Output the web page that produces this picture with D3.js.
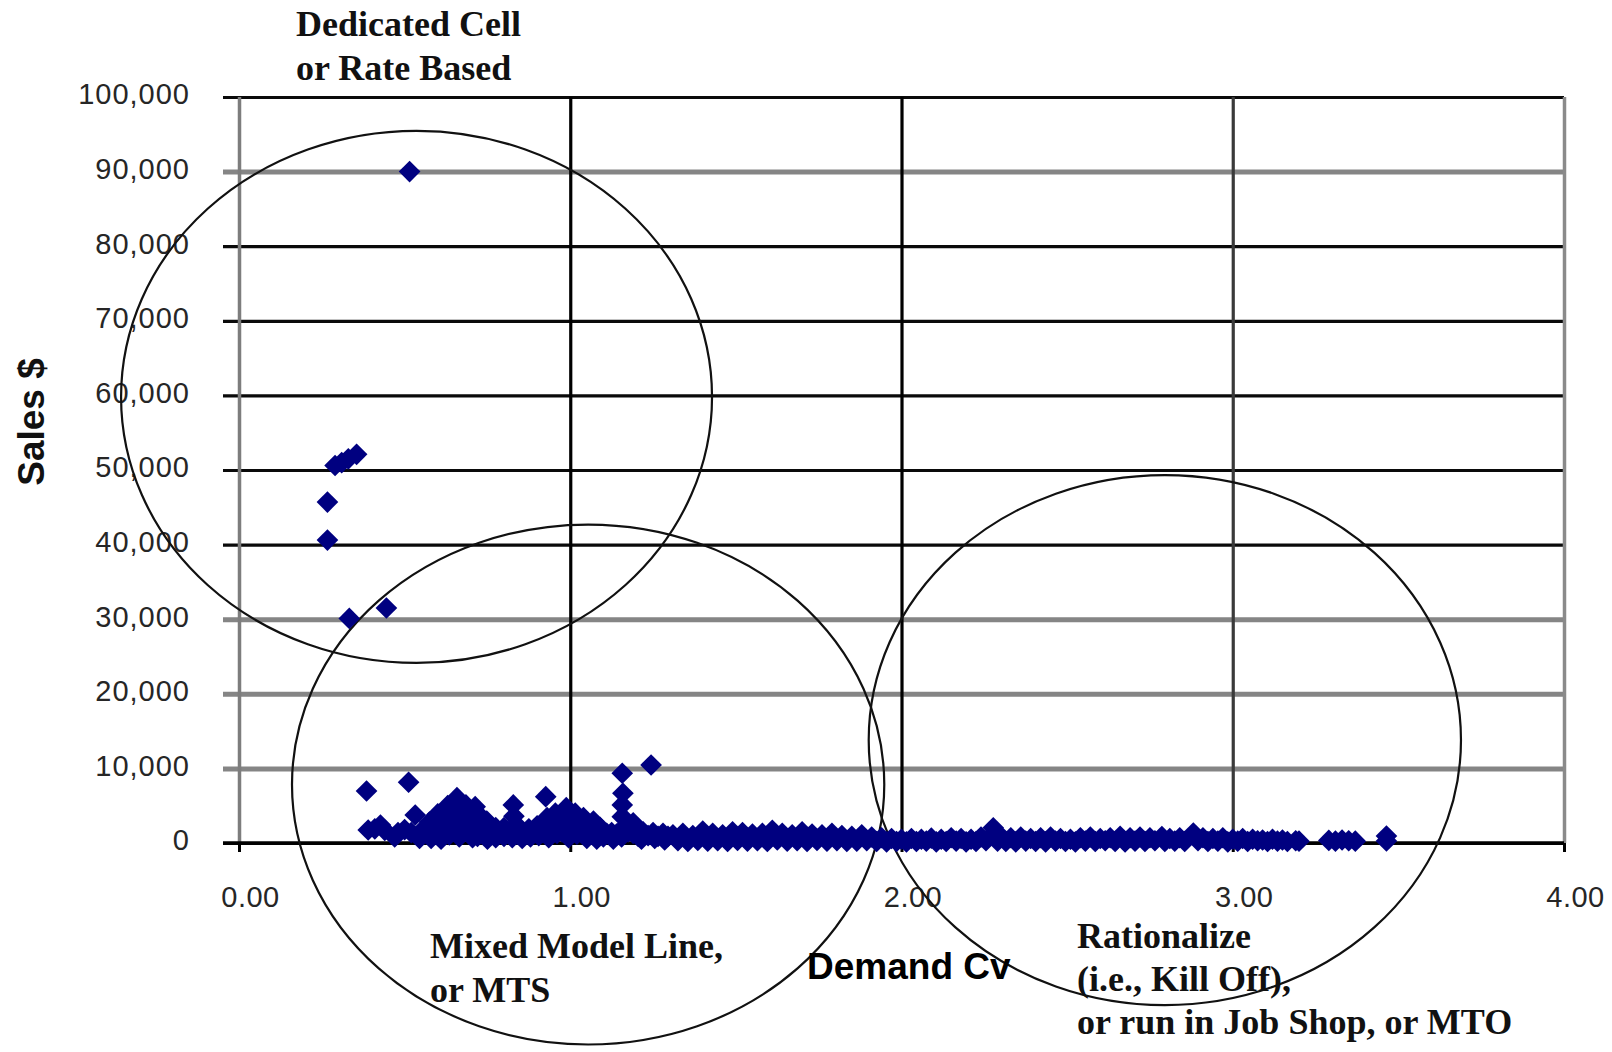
<!DOCTYPE html>
<html>
<head>
<meta charset="utf-8">
<script src="https://cdn.jsdelivr.net/npm/d3@7"></script>
<style>
  body { margin: 0; background: #ffffff; }
  svg { display: block; }
</style>
</head>
<body>
<svg id="chart" width="1612" height="1052"></svg>
<script>
// ---------------- data ----------------
const yTicks = [0, 10000, 20000, 30000, 40000, 50000, 60000, 70000, 80000, 90000, 100000];
const xTicks = [0, 1, 2, 3, 4];
const xLabel = "Demand Cv";
const yLabel = "Sales $";

// [Demand Cv, Sales $]
const dedicatedPoints = [
  [0.515, 90000], [0.29, 50600], [0.31, 51000], [0.33, 51500], [0.355, 52100],
  [0.267, 45700], [0.267, 40600], [0.333, 30100], [0.445, 31500]
];

const mixedPoints = [
  [0.385, 6975], [0.512, 8140], [0.532, 3750], [0.39, 1740], [0.41, 1900], [0.427, 2400], [0.44, 1700],
  [0.48, 1400], [0.50, 1800], [0.52, 1400], [0.55, 1300], [0.545, 600], [0.47, 800],
  [0.56, 2000], [0.575, 2800], [0.575, 1400], [0.58, 600], [0.59, 1900],
  [0.60, 3900], [0.60, 2600], [0.605, 1300], [0.61, 500], [0.62, 1700],
  [0.63, 5000], [0.63, 3700], [0.635, 2400], [0.635, 1100], [0.645, 3000], [0.645, 1600],
  [0.658, 6080], [0.66, 4700], [0.66, 3400], [0.665, 2100], [0.665, 800],
  [0.675, 3000], [0.675, 1500],
  [0.685, 5100], [0.69, 3800], [0.69, 2500], [0.695, 1200], [0.70, 2000], [0.705, 700],
  [0.713, 4870], [0.715, 3600], [0.72, 2300], [0.72, 900], [0.73, 1500], [0.735, 3300],
  [0.748, 2950], [0.745, 1600], [0.75, 500], [0.76, 1200],
  [0.775, 2050], [0.775, 700], [0.79, 1300],
  [0.80, 2050], [0.80, 900], [0.815, 1500],
  [0.828, 5100], [0.83, 3600], [0.83, 2200], [0.825, 700], [0.84, 1200],
  [0.85, 1900], [0.855, 600], [0.865, 1300],
  [0.875, 1900], [0.88, 800], [0.89, 1500],
  [0.90, 2300], [0.905, 1000], [0.915, 1400],
  [0.926, 6210], [0.93, 3400], [0.93, 2000], [0.935, 700], [0.945, 2700], [0.945, 1200],
  [0.955, 4000], [0.96, 2700], [0.96, 1300], [0.975, 3000], [0.975, 1500],
  [0.988, 4740], [0.99, 3400], [0.99, 2000], [0.995, 700], [1.005, 2700], [1.005, 1300],
  [1.015, 4000], [1.02, 2600], [1.02, 1200], [1.03, 1500],
  [1.04, 3400], [1.045, 2000], [1.05, 600], [1.06, 1300],
  [1.07, 2950], [1.075, 1600], [1.08, 500], [1.085, 1200],
  [1.09, 2100], [1.10, 800], [1.11, 1300],
  [1.125, 1400], [1.13, 500], [1.14, 1200],
  [1.157, 9350], [1.159, 6670], [1.157, 5100], [1.157, 3530], [1.16, 2000], [1.155, 800],
  [1.175, 1500], [1.19, 2700], [1.19, 1300], [1.205, 900],
  [1.22, 1500], [1.215, 500], [1.235, 1000],
  [1.244, 10460], [1.25, 1400], [1.255, 600], [1.265, 900],
  [1.28, 1300], [1.285, 400], [1.295, 900]
];

const tailUpperPoints = [
  [1.31, 1100], [1.34, 1300], [1.37, 1000], [1.40, 1600], [1.43, 1300], [1.46, 1100], [1.49, 1500],
  [1.52, 1400], [1.55, 1200], [1.58, 1300], [1.61, 1700], [1.64, 1300], [1.67, 1100], [1.70, 1500],
  [1.73, 1200], [1.76, 1100], [1.79, 1300], [1.82, 1000], [1.85, 900], [1.88, 1100], [1.91, 800],
  [1.94, 700], [1.97, 600], [2.00, 500], [2.03, 600], [2.06, 500], [2.09, 650], [2.12, 500],
  [2.15, 700], [2.18, 600], [2.21, 500], [2.24, 800], [2.277, 2040], [2.30, 900], [2.33, 700],
  [2.36, 800], [2.39, 600], [2.42, 700], [2.45, 800], [2.48, 600], [2.51, 500], [2.54, 700],
  [2.57, 800], [2.60, 600], [2.63, 700], [2.66, 900], [2.69, 700], [2.72, 800], [2.75, 700],
  [2.786, 870], [2.81, 600], [2.84, 700], [2.881, 1340], [2.91, 700], [2.94, 600], [2.97, 700],
  [3.00, 500], [3.03, 600], [3.06, 500], [3.09, 400], [3.12, 500], [3.15, 400], [3.19, 300]
];

const tailLowerPoints = [
  [1.325, 300], [1.355, 200], [1.385, 350], [1.415, 250], [1.445, 300], [1.475, 200], [1.505, 350],
  [1.535, 250], [1.565, 300], [1.595, 200], [1.625, 400], [1.655, 250], [1.685, 300], [1.715, 200],
  [1.745, 350], [1.775, 250], [1.805, 300], [1.835, 200], [1.865, 250], [1.895, 300], [1.925, 200],
  [1.955, 150], [1.985, 200], [2.015, 150], [2.045, 200], [2.075, 250], [2.105, 150], [2.135, 200],
  [2.165, 250], [2.195, 150], [2.225, 200], [2.255, 300], [2.29, 250], [2.315, 200], [2.345, 150],
  [2.375, 250], [2.405, 200], [2.435, 150], [2.465, 250], [2.495, 200], [2.525, 150], [2.555, 250],
  [2.585, 200], [2.615, 300], [2.645, 200], [2.675, 150], [2.705, 250], [2.735, 200], [2.765, 300],
  [2.795, 200], [2.825, 250], [2.855, 200], [2.895, 300], [2.925, 200], [2.955, 250], [2.985, 150],
  [3.015, 250], [3.045, 200], [3.075, 300], [3.105, 200], [3.135, 250], [3.165, 200], [3.20, 250]
];

const farTailPoints = [
  [3.29, 350], [3.31, 250], [3.33, 400], [3.35, 300], [3.37, 250], [3.464, 940], [3.464, 270]
];

// Region annotations: centre / radii in data units
const regionNames = ["Dedicated Cell\nor Rate Based", "Mixed Model Line,\nor MTS", "Rationalize\n(i.e., Kill Off),\nor run in Job Shop, or MTO"];
const regionCx = [0.536, 1.054, 2.795];
const regionCy = [59800, 7840, 13800];
const regionRx = [0.892, 0.894, 0.894];
const regionRy = [35660, 34850, 35520];

// ---------------- drawing ----------------
const svg = d3.select("#chart");
const plotL = 239, plotR = 1564, plotT = 97, plotB = 843;
const x = d3.scaleLinear().domain([0, 4]).range([plotL, plotR]);
const y = d3.scaleLinear().domain([0, 100000]).range([plotB, plotT]);

const grayGrid = new Set([10000, 20000, 30000, 90000]);
const vColor = v => v === 0 ? "#7d7d7d" : v === 3 ? "#3a3a3a" : v === 4 ? "#8a8a8a" : "#000";

// horizontal gridlines (extend left as tick marks)
const hGrid = svg.append("g").attr("transform", `translate(${plotL - 16},0)`)
  .call(d3.axisLeft(y).tickValues(yTicks).tickSize(-(plotR - plotL + 16)).tickFormat(""));
hGrid.select(".domain").remove();
hGrid.selectAll(".tick line")
  .attr("stroke", d => grayGrid.has(d) ? "#858585" : "#0a0a0a")
  .attr("stroke-width", d => grayGrid.has(d) ? 5 : 3.2);

// vertical gridlines
const vGrid = svg.append("g").attr("transform", `translate(0,${plotB})`)
  .call(d3.axisBottom(x).tickValues(xTicks).tickSize(-(plotB - plotT)).tickFormat(""));
vGrid.select(".domain").remove();
vGrid.selectAll(".tick line")
  .attr("stroke", vColor)
  .attr("stroke-width", d => (d === 0 || d === 4) ? 3.5 : 3.2);

// x axis line + ticks + labels
const xAxis = svg.append("g").attr("transform", `translate(0,${plotB})`)
  .call(d3.axisBottom(x).tickValues(xTicks).tickSize(9).tickPadding(34).tickFormat(d3.format(".2f")));
xAxis.select(".domain").remove();
xAxis.selectAll(".tick line").attr("stroke", "#000").attr("stroke-width", 3);
xAxis.append("line").attr("x1", plotL - 16).attr("x2", plotR).attr("y1", 0).attr("y2", 0)
  .attr("stroke", "#000").attr("stroke-width", 3.4);
xAxis.selectAll(".tick text")
  .attr("dx", 11)
  .attr("fill", "#262626")
  .style("font-family", "'Liberation Sans', Arial, sans-serif")
  .style("font-size", "29px")
  .style("letter-spacing", "0.5px");

// y labels
const yAxis = svg.append("g").attr("transform", `translate(${plotL},0)`)
  .call(d3.axisLeft(y).tickValues(yTicks).tickSize(0).tickPadding(49).tickFormat(d3.format(",")));
yAxis.select(".domain").remove();
yAxis.selectAll(".tick text")
  .attr("dy", "0.24em")
  .attr("fill", "#262626")
  .style("font-family", "'Liberation Sans', Arial, sans-serif")
  .style("font-size", "29px")
  .style("letter-spacing", "1px");

// region ellipses
svg.append("g").selectAll("ellipse")
  .data(regionCx.map((c, i) => i))
  .join("ellipse")
  .attr("cx", i => x(regionCx[i]))
  .attr("cy", i => y(regionCy[i]))
  .attr("rx", i => x(regionRx[i]) - x(0))
  .attr("ry", i => y(0) - y(regionRy[i]))
  .attr("fill", "none")
  .attr("stroke", "#111")
  .attr("stroke-width", 2.2);

// points
const allPoints = [].concat(dedicatedPoints, mixedPoints, tailUpperPoints, tailLowerPoints, farTailPoints);
const diamond = d3.symbol().type(d3.symbolSquare).size(235)();
svg.append("g").selectAll("path")
  .data(allPoints)
  .join("path")
  .attr("d", diamond)
  .attr("transform", d => `translate(${x(d[0])},${y(d[1])}) rotate(45)`)
  .attr("fill", "#000080");

// axis titles
svg.append("text")
  .attr("transform", `translate(44,422) rotate(-90)`)
  .attr("text-anchor", "middle")
  .style("font-family", "'Liberation Sans', Arial, sans-serif")
  .style("font-weight", "bold")
  .style("font-size", "37px")
  .attr("fill", "#111")
  .text(yLabel);

svg.append("text")
  .attr("x", 807).attr("y", 979)
  .style("font-family", "'Liberation Sans', Arial, sans-serif")
  .style("font-weight", "bold")
  .style("font-size", "37px")
  .attr("fill", "#000")
  .text(xLabel);

// region labels
const labelX = [296, 430, 1077];
const labelY = [36, 958, 948];
const labelGap = [44, 44, 43];
const labelSize = [36, 36, 36];
regionNames.forEach((name, i) => {
  const t = svg.append("text")
    .attr("x", labelX[i]).attr("y", labelY[i])
    .style("font-family", "'Liberation Serif', 'Times New Roman', serif")
    .style("font-weight", "bold")
    .style("font-size", labelSize[i] + "px")
    .attr("fill", "#111");
  name.split("\n").forEach((line, j) => {
    t.append("tspan").attr("x", labelX[i]).attr("y", labelY[i] + j * labelGap[i]).text(line);
  });
});
</script>
</body>
</html>
